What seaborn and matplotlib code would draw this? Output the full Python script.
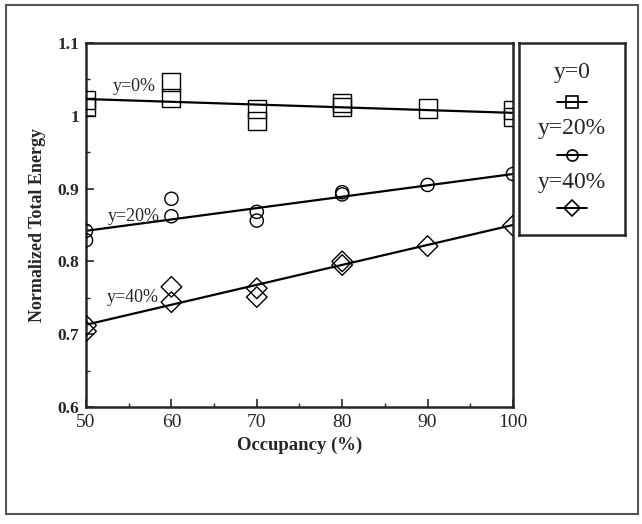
import numpy as np
import pandas as pd
import matplotlib
matplotlib.use("Agg")
import matplotlib.pyplot as plt
import seaborn as sns
from matplotlib.patches import Rectangle
from matplotlib.ticker import MultipleLocator

occ_0 = [50, 50, 60, 60, 70, 70, 80, 80, 90, 100, 100]
energy_0 = [1.022, 1.012, 1.046, 1.024, 1.009, 0.993, 1.018, 1.012, 1.010, 1.008, 0.998]
occ_20 = [50, 50, 60, 60, 70, 70, 80, 80, 90, 100]
energy_20 = [0.842, 0.829, 0.886, 0.862, 0.868, 0.856, 0.895, 0.892, 0.905, 0.920]
occ_40 = [50, 50, 60, 60, 70, 70, 80, 80, 90, 100]
energy_40 = [0.712, 0.704, 0.765, 0.744, 0.763, 0.751, 0.800, 0.795, 0.821, 0.849]

# fitted lines
fit_occ = [50, 100]
fit_0 = [1.023, 1.004]
fit_20 = [0.842, 0.920]
fit_40 = [0.713, 0.850]

series_labels = ["y=0%", "y=20%", "y=40%"]
label_pos = [(55.7, 1.040), (55.6, 0.862), (55.5, 0.751)]
legend_labels = ["y=0", "y=20%", "y=40%"]

sns.set_style("ticks")
plt.rcParams["font.family"] = ["Liberation Serif", "DejaVu Serif"]

fig = plt.figure(figsize=(6.42, 5.24), dpi=100)
fig.patches.append(Rectangle((0.009, 0.019), 0.985, 0.972, transform=fig.transFigure,
                             fill=False, edgecolor="#555555", lw=1.5))

ax = fig.add_axes([0.134, 0.2233, 0.665, 0.6947])

markers = ["s", "o", "D"]
sizes = [170, 90, 110]
for occ, en, m, s in zip([occ_0, occ_20, occ_40], [energy_0, energy_20, energy_40], markers, sizes):
    sns.scatterplot(x=occ, y=en, marker=m, s=s, facecolor="none", edgecolor="black",
                    linewidth=1.0, ax=ax, zorder=3)

for fit in [fit_0, fit_20, fit_40]:
    sns.lineplot(x=fit_occ, y=fit, color="black", lw=1.6, ax=ax)

for lab, (px, py) in zip(series_labels, label_pos):
    ax.text(px, py, lab, ha="center", va="center", fontsize=13)

ax.set_xlim(50, 100)
ax.set_ylim(0.6, 1.1)
ax.set_yticks([0.6, 0.7, 0.8, 0.9, 1.0, 1.1])
ax.set_yticklabels(["0.6", "0.7", "0.8", "0.9", "1", "1.1"], fontweight="bold", fontsize=12.5)
ax.set_xticks([50, 60, 70, 80, 90, 100])
ax.set_xticklabels(["50", "60", "70", "80", "90", "100"], fontsize=14)
ax.xaxis.set_minor_locator(MultipleLocator(5))
ax.yaxis.set_minor_locator(MultipleLocator(0.05))
ax.tick_params(which="major", direction="in", length=6, width=1.2, pad=5)
ax.tick_params(which="minor", direction="in", length=3, width=1.0)
for sp in ax.spines.values():
    sp.set_linewidth(1.8)
ax.set_xlabel("Occupancy (%)", fontweight="bold", fontsize=13.5, labelpad=4)
ax.set_ylabel("Normalized Total Energy", fontweight="bold", fontsize=13, labelpad=8)

# legend panel: label above each marker glyph
lax = fig.add_axes([0.808, 0.5515, 0.166, 0.3665])
lax.set_xlim(0, 1)
lax.set_ylim(0, 1)
lax.set_xticks([])
lax.set_yticks([])
for sp in lax.spines.values():
    sp.set_linewidth(1.8)
text_y = [0.844, 0.557, 0.271]
glyph_y = [0.693, 0.417, 0.141]
glyph_ms = [9, 8, 8]
for lab, ty, gy, m, ms in zip(legend_labels, text_y, glyph_y, markers, glyph_ms):
    lax.text(0.5, ty, lab, ha="center", va="center", fontsize=17)
    lax.plot([0.36, 0.64], [gy, gy], color="black", lw=1.4)
    lax.plot([0.5], [gy], marker=m, ms=ms, mfc="none", mec="black", mew=1.2)

fig.savefig("out.png", dpi=100)
